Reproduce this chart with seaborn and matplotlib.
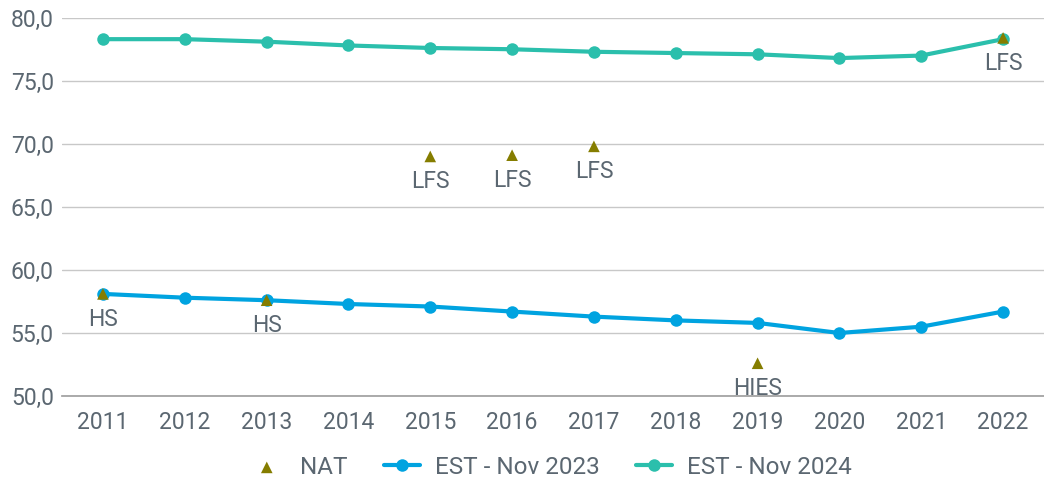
import pandas as pd
import matplotlib.pyplot as plt
import seaborn as sns

years = list(range(2011, 2023))
est_2023 = [58.1, 57.8, 57.6, 57.3, 57.1, 56.7, 56.3, 56.0, 55.8, 55.0, 55.5, 56.7]
est_2024 = [78.3, 78.3, 78.1, 77.8, 77.6, 77.5, 77.3, 77.2, 77.1, 76.8, 77.0, 78.3]
nat_years = [2011, 2013, 2015, 2016, 2017, 2019, 2022]
nat_values = [58.1, 57.6, 69.0, 69.1, 69.8, 52.6, 78.4]
nat_labels = ['HS', 'HS', 'LFS', 'LFS', 'LFS', 'HIES', 'LFS']

text_col = '#5b6771'
blue = '#00a3e0'
teal = '#2bbfac'
olive = '#857d00'

sns.set_theme(style='white')
plt.rcParams['font.family'] = ['Roboto', 'DejaVu Sans']

df = pd.DataFrame({'Year': years, 'EST - Nov 2023': est_2023, 'EST - Nov 2024': est_2024})
df = df.melt(id_vars='Year', var_name='Series', value_name='Value')
nat = pd.DataFrame({'Year': nat_years, 'Value': nat_values, 'Label': nat_labels})

fig = plt.figure(figsize=(10.44, 4.83), dpi=100)
ax = fig.add_axes([0.0594, 0.180, 0.9406, 0.7833])

sns.lineplot(data=df, x='Year', y='Value', hue='Series', palette=[blue, teal],
             marker='o', markersize=9, markeredgewidth=0, linewidth=3, ax=ax)
sns.scatterplot(data=nat, x='Year', y='Value', marker='^', s=70, color=olive,
                edgecolor='none', label='NAT', ax=ax, zorder=5)

for _, r in nat.iterrows():
    ax.annotate(r['Label'], (r['Year'], r['Value']), xytext=(0, -10), textcoords='offset points',
                ha='center', va='top', fontsize=16.5, color=text_col)

ax.set_xlim(2010.5, 2022.5)
ax.set_ylim(50, 80)
ax.set_yticks([50, 55, 60, 65, 70, 75, 80])
ax.set_yticklabels([f'{v:.1f}'.replace('.', ',') for v in [50, 55, 60, 65, 70, 75, 80]])
ax.set_xticks(years)
ax.set_xticklabels([str(y) for y in years])
ax.tick_params(axis='both', labelsize=16.5, colors=text_col, length=0)
ax.tick_params(axis='y', pad=6)
ax.tick_params(axis='x', pad=11)
ax.yaxis.grid(True, color='#c8c8c8', linewidth=1)
ax.set_axisbelow(True)
for s in ['left', 'right', 'top']:
    ax.spines[s].set_visible(False)
ax.spines['bottom'].set_color('#a0a0a0')
ax.set_xlabel('')
ax.set_ylabel('')

handles, labels = ax.get_legend_handles_labels()
order = [labels.index('NAT'), labels.index('EST - Nov 2023'), labels.index('EST - Nov 2024')]
ax.legend([handles[i] for i in order], [labels[i] for i in order], loc='upper center',
          bbox_to_anchor=(0.497, -0.1), ncol=3, frameon=False, fontsize=17.5,
          labelcolor=text_col, handlelength=1.5, handletextpad=0.6, columnspacing=1.5)

fig.savefig('out.png', dpi=100)
